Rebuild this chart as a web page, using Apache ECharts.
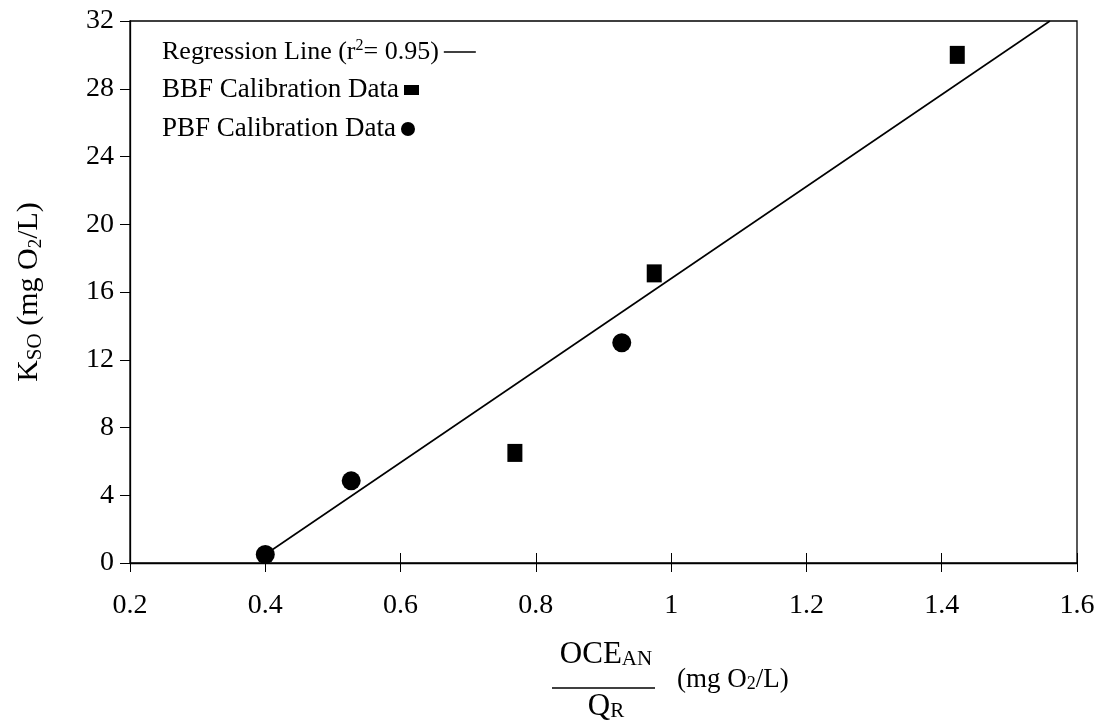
<!DOCTYPE html>
<html>
<head>
<meta charset="utf-8">
<title>KSO vs OCE/Q</title>
<script src="https://cdn.jsdelivr.net/npm/echarts@6/dist/echarts.min.js"></script>
<style>
  html, body { margin: 0; padding: 0; background: #fff; }
  #main { width: 1100px; height: 721px; }
</style>
</head>
<body>
<div id="main"></div>
<script>
// data
var bbfX = [0.769, 0.975, 1.423];
var bbfY = [6.5, 17.1, 30.0];
var pbfX = [0.40, 0.527, 0.927];
var pbfY = [0.5, 4.85, 13.0];
// regression line end points (r^2 = 0.95)
var regX = [0.40, 1.56];
var regY = [0.5, 32];

var xMin = 0.2, xMax = 1.6, xStep = 0.2;
var yMin = 0, yMax = 32, yStep = 4;

var FONT = '"Times New Roman", "Liberation Serif", serif';

function zip(xs, ys) {
  return xs.map(function (x, i) { return [x, ys[i]]; });
}

var chart = echarts.init(document.getElementById('main'));

var baseAxisLine = { lineStyle: { color: '#000', width: 1.3 } };

chart.setOption({
  backgroundColor: '#fff',
  animation: false,
  textStyle: { fontFamily: FONT, color: '#000' },
  grid: {
    left: 130, top: 21, right: 23, bottom: 158,
    show: true, borderColor: '#000', borderWidth: 1.3
  },
  legend: [
    {
      data: [{ name: 'Regression Line', icon: 'rect' }],
      left: 162, top: 38, padding: 0,
      itemWidth: 32, itemHeight: 1.5, align: 'right',
      itemStyle: { color: '#000' },
      formatter: function () { return 'Regression Line (r{sup|2}= 0.95)'; },
      textStyle: {
        fontFamily: FONT, fontSize: 26, color: '#000', lineHeight: 28,
        rich: { sup: { fontFamily: FONT, fontSize: 16, verticalAlign: 'top', lineHeight: 10 } }
      }
    },
    {
      data: [{ name: 'BBF Calibration Data', icon: 'rect' }],
      left: 162, top: 76, padding: 0,
      itemWidth: 15, itemHeight: 10, align: 'right',
      textStyle: { fontFamily: FONT, fontSize: 27, color: '#000', lineHeight: 28 }
    },
    {
      data: [{ name: 'PBF Calibration Data', icon: 'circle' }],
      left: 162, top: 115, padding: 0,
      itemWidth: 14, itemHeight: 14, align: 'right',
      textStyle: { fontFamily: FONT, fontSize: 27, color: '#000', lineHeight: 28 }
    }
  ],
  xAxis: [
    {
      type: 'value', min: xMin, max: xMax, interval: xStep,
      axisLine: baseAxisLine,
      axisTick: { inside: true, length: 10, lineStyle: { color: '#000' } },
      axisLabel: { fontFamily: FONT, fontSize: 28, color: '#000', margin: 29 },
      splitLine: { show: false }
    },
    {
      type: 'value', min: xMin, max: xMax, interval: xStep, position: 'bottom',
      axisLine: { show: false },
      axisTick: { inside: false, length: 9, lineStyle: { color: '#000' } },
      axisLabel: { show: false },
      splitLine: { show: false }
    }
  ],
  yAxis: {
    type: 'value', min: yMin, max: yMax, interval: yStep,
    axisLine: baseAxisLine,
    axisTick: { inside: false, length: 10, lineStyle: { color: '#000' } },
    axisLabel: { fontFamily: FONT, fontSize: 28, color: '#000', margin: 16 },
    splitLine: { show: false },
    name: 'K{sc|SO} (mg O{sub|2}/L)',
    nameLocation: 'middle', nameRotate: 90, nameGap: 84,
    nameTextStyle: {
      fontFamily: FONT, fontSize: 30, color: '#000', lineHeight: 34,
      rich: {
        sc: { fontFamily: FONT, fontSize: 21, verticalAlign: 'bottom', lineHeight: 25 },
        sub: { fontFamily: FONT, fontSize: 19, verticalAlign: 'bottom', lineHeight: 8 }
      }
    }
  },
  graphic: [
    {
      type: 'text',
      style: {
        text: 'OCE{s|AN}', x: 606, y: 670, align: 'center', verticalAlign: 'bottom',
        fontFamily: FONT, fontSize: 31, fill: '#000',
        rich: { s: { fontFamily: FONT, fontSize: 21, verticalAlign: 'bottom', lineHeight: 12 } }
      }
    },
    {
      type: 'line',
      shape: { x1: 552, y1: 688, x2: 655, y2: 688 },
      style: { stroke: '#000', lineWidth: 1.3 }
    },
    {
      type: 'text',
      style: {
        text: 'Q{s|R}', x: 606, y: 691, align: 'center', verticalAlign: 'top',
        fontFamily: FONT, fontSize: 31, fill: '#000',
        rich: { s: { fontFamily: FONT, fontSize: 21, verticalAlign: 'bottom', lineHeight: 12 } }
      }
    },
    {
      type: 'text',
      style: {
        text: '(mg O{s|2}/L)', x: 677, y: 680, align: 'left', verticalAlign: 'middle',
        fontFamily: FONT, fontSize: 27, fill: '#000',
        rich: { s: { fontFamily: FONT, fontSize: 18, verticalAlign: 'bottom', lineHeight: 8 } }
      }
    }
  ],
  series: [
    {
      name: 'Regression Line', type: 'line',
      data: zip(regX, regY),
      symbol: 'none', showSymbol: false,
      lineStyle: { color: '#000', width: 1.6 },
      itemStyle: { color: '#000' },
      z: 2
    },
    {
      name: 'BBF Calibration Data', type: 'scatter',
      data: zip(bbfX, bbfY),
      symbol: 'rect', symbolSize: [15, 18],
      itemStyle: { color: '#000', opacity: 1 },
      z: 3
    },
    {
      name: 'PBF Calibration Data', type: 'scatter',
      data: zip(pbfX, pbfY),
      symbol: 'circle', symbolSize: 19,
      itemStyle: { color: '#000', opacity: 1 },
      z: 3
    }
  ]
});
</script>
</body>
</html>
